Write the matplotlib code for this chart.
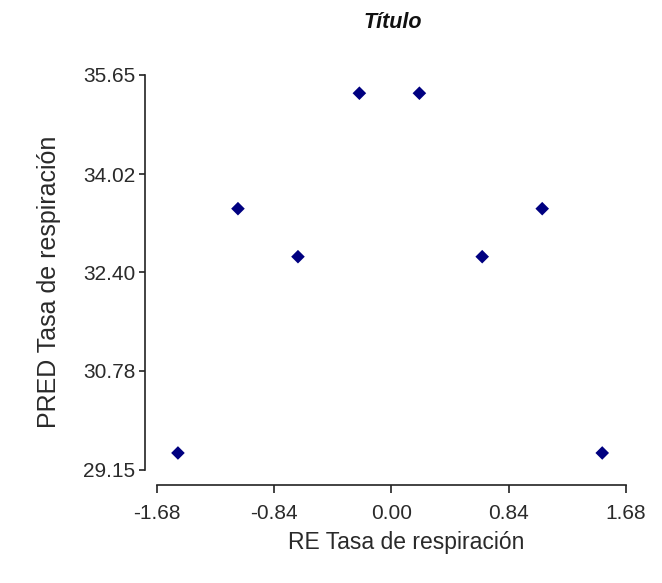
import matplotlib
matplotlib.use("Agg")
import matplotlib.pyplot as plt

plt.rcParams['font.family'] = ['Liberation Sans', 'DejaVu Sans']

# Data
re_vals = [-1.53, -1.10, -0.67, -0.23, 0.20, 0.65, 1.08, 1.51]
pred_vals = [29.43, 33.45, 32.66, 35.35, 35.35, 32.66, 33.45, 29.43]
xticks = [-1.68, -0.84, 0.00, 0.84, 1.68]
yticks = [29.15, 30.78, 32.40, 34.02, 35.65]
xlabels = ["-1.68", "-0.84", "0.00", "0.84", "1.68"]
ylabels = ["29.15", "30.78", "32.40", "34.02", "35.65"]

W, H = 662, 583
fig = plt.figure(figsize=(W / 100, H / 100), dpi=100)
left, right, bottom, top = 145, 630, 485, 70
aw, ah = right - left, bottom - top
ax = fig.add_axes([left / W, (H - bottom) / H, aw / W, ah / H])

ax.scatter(re_vals, pred_vals, marker='D', s=48, color='#000080', edgecolors='none', zorder=3)

ax.set_xlim(-1.766, 1.709)
ax.set_ylim(28.903, 35.732)

ax.spines['top'].set_visible(False)
ax.spines['right'].set_visible(False)
ax.spines['left'].set_bounds(29.15, 35.65)
ax.spines['bottom'].set_bounds(-1.68, 1.68)
for s in ('left', 'bottom'):
    ax.spines[s].set_color('#222222')
    ax.spines[s].set_linewidth(1.2)

ax.set_xticks(xticks)
ax.set_xticklabels(xlabels)
ax.set_yticks(yticks)
ax.set_yticklabels(ylabels)
ax.tick_params(axis='both', direction='out', width=1.2, color='#222222',
               labelsize=15, labelcolor='#2a2a2a')
ax.tick_params(axis='x', length=6, pad=8)
ax.tick_params(axis='y', length=4, pad=3)

ax.set_xlabel("RE Tasa de respiración", fontsize=16.5, color='#2a2a2a')
ax.xaxis.label.set_va('center')
ax.xaxis.set_label_coords((406 - left) / aw, (bottom - 543) / ah)

ax.set_ylabel("PRED Tasa de respiración", fontsize=18, color='#2a2a2a')
ax.yaxis.label.set_va('center')
ax.yaxis.set_label_coords((49 - left) / aw, (bottom - 282) / ah)

fig.text(393 / W, 1 - 23 / H, "Título", fontsize=15.5, fontweight='bold', fontstyle='italic',
         ha='center', va='center', color='#111111')

fig.savefig("out.png", dpi=100)
